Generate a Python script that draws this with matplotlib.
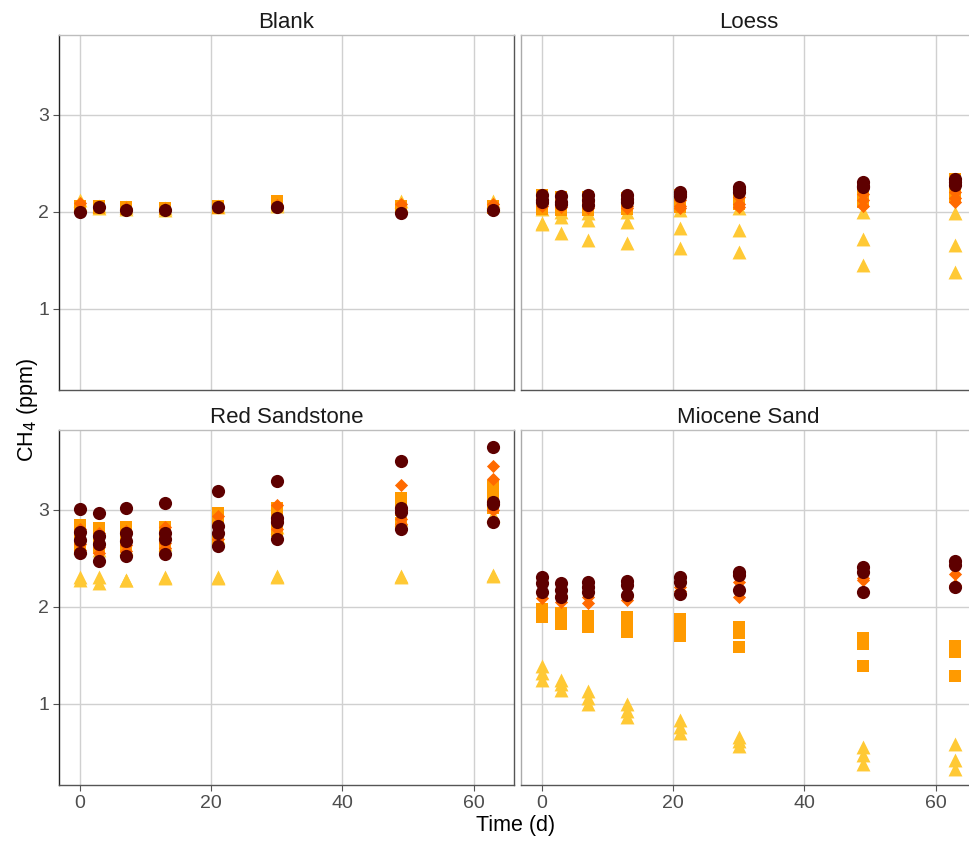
import matplotlib
matplotlib.use("Agg")
import matplotlib.pyplot as plt
import numpy as np

plt.rcParams['font.family'] = ['Liberation Sans', 'DejaVu Sans']

time = [0, 3, 7, 13, 21, 30, 49, 63]
panels = ["Blank", "Loess", "Red Sandstone", "Miocene Sand"]
series = ["triangle", "square", "diamond", "circle"]

# ---- Blank ----
blank_tri = [[2.12, 2.06, 2.05, 2.04, 2.06, 2.08, 2.11, 2.11],
             [2.08, 2.04, 2.03, 2.02, 2.05, 2.06, 2.07, 2.07]]
blank_sq = [[2.06, 2.06, 2.05, 2.04, 2.06, 2.11, 2.06, 2.06],
            [2.04, 2.04, 2.03, 2.03, 2.04, 2.08, 2.04, 2.04]]
blank_dia = [[2.09, 2.05, 2.04, 2.03, 2.05, 2.07, 2.08, 2.08]]
blank_circ = [[2.00, 2.05, 2.02, 2.02, 2.05, 2.045, 1.99, 2.02]]

# ---- Loess ----
loess_tri = [[2.03, 2.00, 1.99, 2.00, 2.02, 2.04, 2.00, 1.99],
             [1.87, 1.95, 1.92, 1.89, 1.83, 1.81, 1.72, 1.66],
             [1.88, 1.78, 1.71, 1.68, 1.63, 1.59, 1.45, 1.38]]
loess_sq = [[2.17, 2.15, 2.15, 2.14, 2.17, 2.20, 2.25, 2.34],
            [2.05, 2.05, 2.05, 2.06, 2.10, 2.12, 2.15, 2.22],
            [2.03, 2.02, 2.02, 2.03, 2.05, 2.08, 2.10, 2.15]]
loess_dia = [[2.12, 2.10, 2.10, 2.10, 2.12, 2.15, 2.18, 2.20],
             [2.08, 2.07, 2.06, 2.06, 2.06, 2.08, 2.12, 2.14],
             [2.06, 2.05, 2.04, 2.04, 2.04, 2.05, 2.06, 2.10]]
loess_circ = [[2.17, 2.16, 2.17, 2.17, 2.20, 2.26, 2.31, 2.34],
              [2.12, 2.10, 2.12, 2.13, 2.18, 2.23, 2.27, 2.31],
              [2.10, 2.08, 2.07, 2.10, 2.16, 2.20, 2.25, 2.28]]

# ---- Red Sandstone ----
rs_tri = [[2.31, 2.31, 2.28, 2.31, 2.31, 2.32, 2.32, 2.33],
          [2.28, 2.24, 2.28, 2.30, 2.30, 2.31, 2.31, 2.32],
          [2.62, 2.58, 2.60, 2.65, 2.72, 2.82, 2.90, 2.95]]
rs_sq = [[2.84, 2.81, 2.82, 2.82, 2.97, 3.02, 3.12, 3.24],
         [2.74, 2.70, 2.72, 2.74, 2.88, 2.90, 3.00, 3.12],
         [2.62, 2.60, 2.62, 2.62, 2.68, 2.78, 2.86, 3.02]]
rs_dia = [[2.80, 2.76, 2.78, 2.82, 2.93, 3.05, 3.25, 3.45],
          [2.65, 2.62, 2.64, 2.66, 2.75, 2.88, 2.90, 3.32],
          [2.58, 2.55, 2.57, 2.60, 2.70, 2.80, 2.85, 3.00]]
rs_circ = [[3.01, 2.97, 3.02, 3.07, 3.19, 3.30, 3.50, 3.65],
           [2.77, 2.73, 2.76, 2.76, 2.83, 2.91, 3.02, 3.08],
           [2.69, 2.65, 2.68, 2.70, 2.76, 2.87, 2.98, 3.06],
           [2.55, 2.47, 2.52, 2.54, 2.63, 2.70, 2.80, 2.87]]

# ---- Miocene Sand ----
ms_tri = [[1.39, 1.25, 1.13, 1.00, 0.83, 0.66, 0.56, 0.59],
          [1.32, 1.20, 1.06, 0.93, 0.76, 0.62, 0.47, 0.42],
          [1.25, 1.14, 1.00, 0.87, 0.70, 0.57, 0.38, 0.33]]
ms_sq = [[1.98, 1.94, 1.91, 1.89, 1.87, 1.79, 1.68, 1.60],
         [1.93, 1.88, 1.85, 1.81, 1.78, 1.73, 1.62, 1.53],
         [1.89, 1.82, 1.79, 1.74, 1.70, 1.59, 1.39, 1.29]]
ms_dia = [[2.09, 2.05, 2.04, 2.07, 2.16, 2.10, 2.28, 2.34],
          [2.14, 2.12, 2.10, 2.10, 2.20, 2.25, 2.30, 2.22]]
ms_circ = [[2.31, 2.24, 2.26, 2.27, 2.31, 2.36, 2.41, 2.47],
           [2.24, 2.17, 2.20, 2.22, 2.26, 2.33, 2.36, 2.43],
           [2.15, 2.10, 2.15, 2.12, 2.13, 2.17, 2.15, 2.20]]

panel_data = {
    "Blank": [blank_tri, blank_sq, blank_dia, blank_circ],
    "Loess": [loess_tri, loess_sq, loess_dia, loess_circ],
    "Red Sandstone": [rs_tri, rs_sq, rs_dia, rs_circ],
    "Miocene Sand": [ms_tri, ms_sq, ms_dia, ms_circ],
}

colors = ["#FFC935", "#FF9A00", "#FF6A00", "#5E0000"]
markers = ["^", "s", "D", "o"]
sizes = [100, 78, 45, 90]

W, H = 970, 843
fig = plt.figure(figsize=(W / 100, H / 100), dpi=100)

pw = 455
ph = 355
lefts = [59, 521]
tops = [35, 430]

ylim = (0.165, 3.82)
xlim = (-3.15, 66.15)

for i, name in enumerate(panels):
    r, c = divmod(i, 2)
    l = lefts[c]
    t = tops[r]
    ax = fig.add_axes([l / W, 1 - (t + ph) / H, pw / W, ph / H])
    for k in range(4):
        for rep in panel_data[name][k]:
            ax.scatter(time, rep, marker=markers[k], s=sizes[k], color=colors[k],
                       linewidths=0, zorder=3 + k)
    ax.set_xlim(*xlim)
    ax.set_ylim(*ylim)
    ax.set_xticks([0, 20, 40, 60])
    ax.set_yticks([1, 2, 3])
    ax.grid(True, color="#d0d0d0", linewidth=1.0, zorder=0)
    ax.set_axisbelow(True)
    ax.tick_params(axis="both", colors="#555555", labelsize=14, length=4,
                   width=0.8, labelcolor="#4d4d4d", pad=3)
    if c == 1:
        ax.tick_params(axis="y", labelleft=False, length=0)
    if r == 0:
        ax.tick_params(axis="x", labelbottom=False, length=0)
    ax.spines["top"].set_color("#bdbdbd")
    ax.spines["right"].set_color("#555555")
    ax.spines["bottom"].set_color("#555555")
    ax.spines["left"].set_color("#222222" if c == 0 else "#aaaaaa")
    for sp in ax.spines.values():
        sp.set_linewidth(1.0)
    ax.set_title(name, fontsize=16, color="#1a1a1a", pad=5)

fig.text(27 / W, 1 - 410 / H, "CH$_4$ (ppm)", rotation=90, ha="center", va="center",
         fontsize=15.5, color="#000000")
fig.text(516 / W, 1 - 826 / H, "Time (d)", ha="center", va="center",
         fontsize=15.5, color="#000000")

fig.savefig("out.png", dpi=100)
